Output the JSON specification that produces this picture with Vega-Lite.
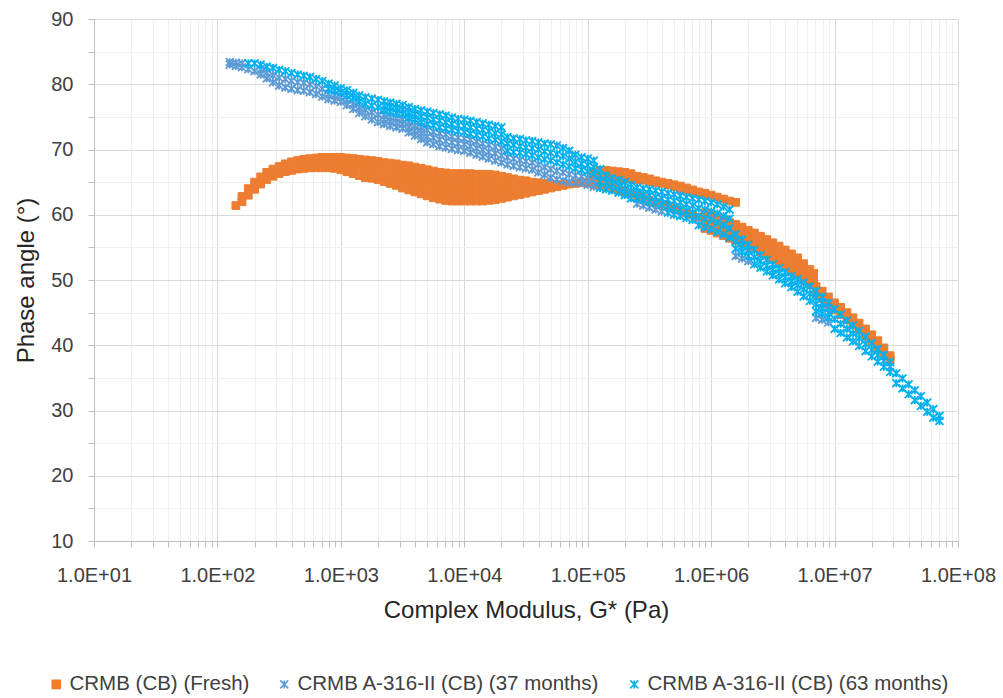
{
"$schema":"https://vega.github.io/schema/vega-lite/v6.json",
"width":864,"height":522,
"autosize":{"type":"none"},
"padding":{"left":94,"top":19,"right":45,"bottom":157},
"background":"#ffffff",
"config":{"font":"Liberation Sans","view":{"stroke":null},
"axis":{"labelColor":"#404040","titleColor":"#262626","labelFontSize":20,"titleFontSize":24,"titleFontWeight":"normal","domainColor":"#BFBFBF","tickColor":"#BFBFBF","tickSize":6,"labelOverlap":false,"labelFlush":false},
"legend":{"labelLimit":0}},
"data":{"values":[
{"s":"A","g":1.41e2,"p":61.4},{"s":"A","g":1.58e2,"p":62.8},{"s":"A","g":1.78e2,"p":64.0},{"s":"A","g":2e2,"p":65.0},{"s":"A","g":2.24e2,"p":65.8},{"s":"A","g":2.51e2,"p":66.5},{"s":"A","g":2.82e2,"p":67.0},{"s":"A","g":3.16e2,"p":67.4},{"s":"A","g":3.55e2,"p":67.8},{"s":"A","g":3.98e2,"p":68.1},{"s":"A","g":4.47e2,"p":68.3},{"s":"A","g":5.01e2,"p":68.5},{"s":"A","g":5.62e2,"p":68.6},{"s":"A","g":6.31e2,"p":68.7},{"s":"A","g":7.08e2,"p":68.8},{"s":"A","g":7.94e2,"p":68.8},{"s":"A","g":8.91e2,"p":68.8},{"s":"A","g":1e3,"p":68.8},{"s":"A","g":1.12e3,"p":68.7},{"s":"A","g":1.26e3,"p":68.6},{"s":"A","g":1.41e3,"p":68.5},{"s":"A","g":1.58e3,"p":68.4},{"s":"A","g":1.78e3,"p":68.3},{"s":"A","g":2e3,"p":68.2},{"s":"A","g":2.24e3,"p":68.0},{"s":"A","g":2.51e3,"p":67.9},{"s":"A","g":2.82e3,"p":67.8},{"s":"A","g":3.16e3,"p":67.6},{"s":"A","g":3.55e3,"p":67.5},{"s":"A","g":3.98e3,"p":67.3},{"s":"A","g":4.47e3,"p":67.1},{"s":"A","g":5.01e3,"p":66.9},{"s":"A","g":5.62e3,"p":66.7},{"s":"A","g":6.31e3,"p":66.5},{"s":"A","g":7.08e3,"p":66.4},{"s":"A","g":7.94e3,"p":66.3},{"s":"A","g":8.91e3,"p":66.3},{"s":"A","g":1e4,"p":66.3},{"s":"A","g":1.12e4,"p":66.3},{"s":"A","g":1.26e4,"p":66.2},{"s":"A","g":1.41e4,"p":66.2},{"s":"A","g":1.58e4,"p":66.2},{"s":"A","g":1.78e4,"p":66.1},{"s":"A","g":2e4,"p":65.9},{"s":"A","g":2.24e4,"p":65.7},{"s":"A","g":2.51e4,"p":65.5},{"s":"A","g":2.82e4,"p":65.3},{"s":"A","g":3.16e4,"p":65.2},{"s":"A","g":3.55e4,"p":65.0},{"s":"A","g":3.98e4,"p":64.9},{"s":"A","g":4.47e4,"p":64.8},{"s":"A","g":5.01e4,"p":64.7},{"s":"A","g":5.62e4,"p":64.6},{"s":"A","g":6.31e4,"p":64.6},{"s":"A","g":7.08e4,"p":64.7},{"s":"A","g":7.94e4,"p":64.8},{"s":"A","g":8.91e4,"p":64.9},{"s":"A","g":1e5,"p":65.0},
{"s":"A","g":1.58e2,"p":62.0},{"s":"A","g":1.78e2,"p":63.0},{"s":"A","g":2e2,"p":63.9},{"s":"A","g":2.24e2,"p":64.7},{"s":"A","g":2.51e2,"p":65.4},{"s":"A","g":2.82e2,"p":65.9},{"s":"A","g":3.16e2,"p":66.3},{"s":"A","g":3.55e2,"p":66.6},{"s":"A","g":3.98e2,"p":66.8},{"s":"A","g":4.47e2,"p":67.0},{"s":"A","g":5.01e2,"p":67.1},{"s":"A","g":5.62e2,"p":67.2},{"s":"A","g":6.31e2,"p":67.2},{"s":"A","g":7.08e2,"p":67.2},{"s":"A","g":7.94e2,"p":67.2},{"s":"A","g":8.91e2,"p":67.1},{"s":"A","g":1e3,"p":66.9},{"s":"A","g":1.12e3,"p":66.6},{"s":"A","g":1.26e3,"p":66.3},{"s":"A","g":1.41e3,"p":66.0},{"s":"A","g":1.58e3,"p":65.7},{"s":"A","g":1.78e3,"p":65.6},{"s":"A","g":2e3,"p":65.4},{"s":"A","g":2.24e3,"p":65.1},{"s":"A","g":2.51e3,"p":64.8},{"s":"A","g":2.82e3,"p":64.5},{"s":"A","g":3.16e3,"p":64.1},{"s":"A","g":3.55e3,"p":63.8},{"s":"A","g":3.98e3,"p":63.5},{"s":"A","g":4.47e3,"p":63.2},{"s":"A","g":5.01e3,"p":62.9},{"s":"A","g":5.62e3,"p":62.6},{"s":"A","g":6.31e3,"p":62.4},{"s":"A","g":7.08e3,"p":62.2},{"s":"A","g":7.94e3,"p":62.1},{"s":"A","g":8.91e3,"p":62.1},{"s":"A","g":1e4,"p":62.1},{"s":"A","g":1.12e4,"p":62.1},{"s":"A","g":1.26e4,"p":62.1},{"s":"A","g":1.41e4,"p":62.1},{"s":"A","g":1.58e4,"p":62.2},{"s":"A","g":1.78e4,"p":62.3},{"s":"A","g":2e4,"p":62.5},{"s":"A","g":2.24e4,"p":62.7},{"s":"A","g":2.51e4,"p":62.9},{"s":"A","g":2.82e4,"p":63.1},{"s":"A","g":3.16e4,"p":63.3},{"s":"A","g":3.55e4,"p":63.5},{"s":"A","g":3.98e4,"p":63.7},{"s":"A","g":4.47e4,"p":63.9},{"s":"A","g":5.01e4,"p":64.1},{"s":"A","g":5.62e4,"p":64.3},{"s":"A","g":6.31e4,"p":64.5},
{"s":"A","g":4.47e2,"p":67.7},{"s":"A","g":5.01e2,"p":67.8},{"s":"A","g":5.62e2,"p":67.9},{"s":"A","g":6.31e2,"p":68.0},{"s":"A","g":7.08e2,"p":68.0},{"s":"A","g":7.94e2,"p":68.0},{"s":"A","g":8.91e2,"p":68.0},{"s":"A","g":1e3,"p":67.9},{"s":"A","g":1.12e3,"p":67.7},{"s":"A","g":1.26e3,"p":67.5},{"s":"A","g":1.41e3,"p":67.3},
{"s":"A","g":1.58e3,"p":66.6},{"s":"A","g":1.58e3,"p":67.5},{"s":"A","g":1.78e3,"p":66.5},{"s":"A","g":1.78e3,"p":67.4},{"s":"A","g":2e3,"p":66.3},{"s":"A","g":2e3,"p":67.3},{"s":"A","g":2.24e3,"p":66.1},{"s":"A","g":2.24e3,"p":67.0},{"s":"A","g":2.51e3,"p":65.8},{"s":"A","g":2.51e3,"p":66.9},{"s":"A","g":2.82e3,"p":65.6},{"s":"A","g":2.82e3,"p":66.7},
{"s":"A","g":3.16e3,"p":65.0},{"s":"A","g":3.16e3,"p":65.9},{"s":"A","g":3.16e3,"p":66.7},{"s":"A","g":3.55e3,"p":64.7},{"s":"A","g":3.55e3,"p":65.7},{"s":"A","g":3.55e3,"p":66.6},{"s":"A","g":3.98e3,"p":64.5},{"s":"A","g":3.98e3,"p":65.4},{"s":"A","g":3.98e3,"p":66.4},{"s":"A","g":4.47e3,"p":64.2},{"s":"A","g":4.47e3,"p":65.2},{"s":"A","g":4.47e3,"p":66.1},{"s":"A","g":5.01e3,"p":63.9},{"s":"A","g":5.01e3,"p":64.9},{"s":"A","g":5.01e3,"p":65.9},{"s":"A","g":5.62e3,"p":63.6},{"s":"A","g":5.62e3,"p":64.7},{"s":"A","g":5.62e3,"p":65.7},{"s":"A","g":6.31e3,"p":63.4},{"s":"A","g":6.31e3,"p":64.5},{"s":"A","g":6.31e3,"p":65.5},{"s":"A","g":7.08e3,"p":63.3},{"s":"A","g":7.08e3,"p":64.3},{"s":"A","g":7.08e3,"p":65.4},{"s":"A","g":7.94e3,"p":63.2},{"s":"A","g":7.94e3,"p":64.2},{"s":"A","g":7.94e3,"p":65.3},{"s":"A","g":8.91e3,"p":63.2},{"s":"A","g":8.91e3,"p":64.2},{"s":"A","g":8.91e3,"p":65.3},{"s":"A","g":1e4,"p":63.2},{"s":"A","g":1e4,"p":64.2},{"s":"A","g":1e4,"p":65.3},{"s":"A","g":1.12e4,"p":63.2},{"s":"A","g":1.12e4,"p":64.2},{"s":"A","g":1.12e4,"p":65.3},{"s":"A","g":1.26e4,"p":63.1},{"s":"A","g":1.26e4,"p":64.2},{"s":"A","g":1.26e4,"p":65.2},{"s":"A","g":1.41e4,"p":63.1},{"s":"A","g":1.41e4,"p":64.2},{"s":"A","g":1.41e4,"p":65.2},{"s":"A","g":1.58e4,"p":63.2},{"s":"A","g":1.58e4,"p":64.2},{"s":"A","g":1.58e4,"p":65.2},{"s":"A","g":1.78e4,"p":63.3},{"s":"A","g":1.78e4,"p":64.2},{"s":"A","g":1.78e4,"p":65.2},{"s":"A","g":2e4,"p":63.4},{"s":"A","g":2e4,"p":64.2},{"s":"A","g":2e4,"p":65.1},
{"s":"A","g":2.24e4,"p":63.7},{"s":"A","g":2.24e4,"p":64.7},{"s":"A","g":2.51e4,"p":63.8},{"s":"A","g":2.51e4,"p":64.6},{"s":"A","g":2.82e4,"p":64.2},{"s":"A","g":3.16e4,"p":64.2},{"s":"A","g":3.55e4,"p":64.3},
{"s":"A","g":1.12e5,"p":66.6},{"s":"A","g":1.26e5,"p":66.8},{"s":"A","g":1.41e5,"p":66.8},{"s":"A","g":1.58e5,"p":66.7},{"s":"A","g":1.78e5,"p":66.6},{"s":"A","g":2e5,"p":66.5},{"s":"A","g":2.24e5,"p":66.3},{"s":"A","g":2.51e5,"p":65.9},{"s":"A","g":2.82e5,"p":65.7},{"s":"A","g":3.16e5,"p":65.5},{"s":"A","g":3.55e5,"p":65.2},{"s":"A","g":3.98e5,"p":65.0},{"s":"A","g":4.47e5,"p":64.8},{"s":"A","g":5.01e5,"p":64.6},{"s":"A","g":5.62e5,"p":64.4},{"s":"A","g":6.31e5,"p":64.1},{"s":"A","g":7.08e5,"p":63.8},{"s":"A","g":7.94e5,"p":63.5},{"s":"A","g":8.91e5,"p":63.3},{"s":"A","g":1e6,"p":63.0},{"s":"A","g":1.12e6,"p":62.7},{"s":"A","g":1.26e6,"p":62.4},{"s":"A","g":1.41e6,"p":62.1},{"s":"A","g":1.58e6,"p":61.9},
{"s":"A","g":1.12e5,"p":65.5},{"s":"A","g":1.26e5,"p":65.6},{"s":"A","g":1.41e5,"p":65.6},{"s":"A","g":1.58e5,"p":65.6},{"s":"A","g":1.78e5,"p":65.6},{"s":"A","g":2e5,"p":65.5},{"s":"A","g":2.24e5,"p":65.5},{"s":"A","g":2.51e5,"p":65.4},{"s":"A","g":2.82e5,"p":65.3},{"s":"A","g":3.16e5,"p":65.1},{"s":"A","g":3.55e5,"p":64.9},{"s":"A","g":3.98e5,"p":64.8},{"s":"A","g":4.47e5,"p":64.6},{"s":"A","g":5.01e5,"p":64.3},{"s":"A","g":5.62e5,"p":64.0},{"s":"A","g":6.31e5,"p":63.8},{"s":"A","g":7.08e5,"p":63.5},{"s":"A","g":7.94e5,"p":63.3},{"s":"A","g":8.91e5,"p":63.1},
{"s":"A","g":1e5,"p":64.8},{"s":"A","g":1.12e5,"p":64.7},{"s":"A","g":1.26e5,"p":64.5},{"s":"A","g":1.41e5,"p":64.3},{"s":"A","g":1.58e5,"p":64.1},{"s":"A","g":1.78e5,"p":63.8},{"s":"A","g":2e5,"p":63.5},{"s":"A","g":2.24e5,"p":63.2},{"s":"A","g":2.51e5,"p":62.9},{"s":"A","g":2.82e5,"p":62.5},{"s":"A","g":3.16e5,"p":62.2},{"s":"A","g":3.55e5,"p":61.9},{"s":"A","g":3.98e5,"p":61.6},{"s":"A","g":4.47e5,"p":61.3},{"s":"A","g":5.01e5,"p":61.0},{"s":"A","g":5.62e5,"p":60.7},{"s":"A","g":6.31e5,"p":60.3},{"s":"A","g":7.08e5,"p":60.0},{"s":"A","g":7.94e5,"p":59.6},
{"s":"A","g":8.91e5,"p":60.3},{"s":"A","g":8.91e5,"p":59.1},{"s":"A","g":8.91e5,"p":57.9},{"s":"A","g":1e6,"p":60.0},{"s":"A","g":1e6,"p":58.8},{"s":"A","g":1e6,"p":57.6},{"s":"A","g":1.12e6,"p":59.6},{"s":"A","g":1.12e6,"p":58.4},{"s":"A","g":1.12e6,"p":57.2},{"s":"A","g":1.26e6,"p":59.2},{"s":"A","g":1.26e6,"p":58.0},{"s":"A","g":1.26e6,"p":56.8},{"s":"A","g":1.41e6,"p":58.8},{"s":"A","g":1.41e6,"p":57.6},{"s":"A","g":1.41e6,"p":56.4},{"s":"A","g":1.58e6,"p":58.5},{"s":"A","g":1.58e6,"p":57.3},{"s":"A","g":1.58e6,"p":56.1},{"s":"A","g":1.78e6,"p":58.1},{"s":"A","g":1.78e6,"p":56.9},{"s":"A","g":1.78e6,"p":55.7},{"s":"A","g":2e6,"p":57.6},{"s":"A","g":2e6,"p":56.4},{"s":"A","g":2e6,"p":55.2},{"s":"A","g":2.24e6,"p":57.2},{"s":"A","g":2.24e6,"p":56.0},{"s":"A","g":2.24e6,"p":54.8},{"s":"A","g":2.51e6,"p":56.7},{"s":"A","g":2.51e6,"p":55.5},{"s":"A","g":2.51e6,"p":54.3},{"s":"A","g":2.82e6,"p":56.2},{"s":"A","g":2.82e6,"p":55.0},{"s":"A","g":2.82e6,"p":53.8},{"s":"A","g":3.16e6,"p":55.7},{"s":"A","g":3.16e6,"p":54.5},{"s":"A","g":3.16e6,"p":53.3},{"s":"A","g":3.55e6,"p":55.2},{"s":"A","g":3.55e6,"p":54.0},{"s":"A","g":3.55e6,"p":52.8},{"s":"A","g":3.98e6,"p":54.6},{"s":"A","g":3.98e6,"p":53.4},{"s":"A","g":3.98e6,"p":52.2},{"s":"A","g":4.47e6,"p":54.0},{"s":"A","g":4.47e6,"p":52.8},{"s":"A","g":4.47e6,"p":51.6},{"s":"A","g":5.01e6,"p":53.4},{"s":"A","g":5.01e6,"p":52.2},{"s":"A","g":5.01e6,"p":51.0},{"s":"A","g":5.62e6,"p":52.5},{"s":"A","g":5.62e6,"p":51.3},{"s":"A","g":5.62e6,"p":50.1},{"s":"A","g":6.31e6,"p":51.6},{"s":"A","g":6.31e6,"p":50.5},{"s":"A","g":6.31e6,"p":49.4},{"s":"A","g":6.76e6,"p":51.0},{"s":"A","g":6.76e6,"p":50.2},
{"s":"A","g":7.08e6,"p":49.0},{"s":"A","g":7.08e6,"p":47.9},{"s":"A","g":7.94e6,"p":48.3},{"s":"A","g":7.94e6,"p":47.2},{"s":"A","g":8.91e6,"p":47.4},{"s":"A","g":8.91e6,"p":46.3},{"s":"A","g":1e7,"p":46.5},{"s":"A","g":1e7,"p":45.4},{"s":"A","g":1.12e7,"p":45.8},{"s":"A","g":1.12e7,"p":44.7},{"s":"A","g":1.26e7,"p":45.0},{"s":"A","g":1.26e7,"p":43.9},{"s":"A","g":1.41e7,"p":44.2},{"s":"A","g":1.41e7,"p":43.1},{"s":"A","g":1.58e7,"p":43.4},{"s":"A","g":1.58e7,"p":42.3},{"s":"A","g":1.78e7,"p":42.5},{"s":"A","g":1.78e7,"p":41.4},{"s":"A","g":2e7,"p":41.6},{"s":"A","g":2e7,"p":40.5},{"s":"A","g":2.24e7,"p":40.7},{"s":"A","g":2.24e7,"p":39.6},{"s":"A","g":2.51e7,"p":39.6},{"s":"A","g":2.51e7,"p":38.5},{"s":"A","g":2.82e7,"p":38.4},{"s":"A","g":2.82e7,"p":37.8},
{"s":"B","g":1.26e2,"p":83.0},{"s":"B","g":1.26e2,"p":83.4},{"s":"B","g":1.41e2,"p":82.8},{"s":"B","g":1.41e2,"p":83.3},{"s":"B","g":1.58e2,"p":82.6},{"s":"B","g":1.58e2,"p":83.2},{"s":"B","g":1.78e2,"p":82.3},{"s":"B","g":2e2,"p":82.0},
{"s":"B","g":2.24e2,"p":81.5},{"s":"B","g":2.24e2,"p":82.3},{"s":"B","g":2.51e2,"p":80.9},{"s":"B","g":2.51e2,"p":81.8},{"s":"B","g":2.82e2,"p":80.3},{"s":"B","g":2.82e2,"p":81.4},{"s":"B","g":3.16e2,"p":79.8},{"s":"B","g":3.16e2,"p":81.0},{"s":"B","g":3.55e2,"p":79.5},{"s":"B","g":3.55e2,"p":80.8},{"s":"B","g":3.98e2,"p":79.3},{"s":"B","g":3.98e2,"p":80.5},{"s":"B","g":4.47e2,"p":79.1},{"s":"B","g":4.47e2,"p":80.3},{"s":"B","g":5.01e2,"p":79.0},{"s":"B","g":5.01e2,"p":80.2},{"s":"B","g":5.62e2,"p":78.8},{"s":"B","g":5.62e2,"p":80.0},{"s":"B","g":6.31e2,"p":78.5},{"s":"B","g":6.31e2,"p":79.7},{"s":"B","g":7.08e2,"p":78.1},{"s":"B","g":7.08e2,"p":79.3},
{"s":"B","g":7.94e2,"p":77.7},{"s":"B","g":7.94e2,"p":78.5},{"s":"B","g":8.91e2,"p":77.5},{"s":"B","g":8.91e2,"p":78.3},{"s":"B","g":1e3,"p":77.3},{"s":"B","g":1e3,"p":78.0},{"s":"B","g":1.12e3,"p":76.8},{"s":"B","g":1.12e3,"p":77.6},{"s":"B","g":1.26e3,"p":76.2},{"s":"B","g":1.26e3,"p":77.0},{"s":"B","g":1.41e3,"p":75.6},{"s":"B","g":1.41e3,"p":76.5},{"s":"B","g":1.58e3,"p":75.1},{"s":"B","g":1.58e3,"p":76.1},{"s":"B","g":1.78e3,"p":74.6},{"s":"B","g":1.78e3,"p":75.7},{"s":"B","g":2e3,"p":74.2},{"s":"B","g":2e3,"p":75.3},
{"s":"B","g":2.24e3,"p":73.9},{"s":"B","g":2.24e3,"p":74.6},{"s":"B","g":2.24e3,"p":75.3},{"s":"B","g":2.51e3,"p":73.6},{"s":"B","g":2.51e3,"p":74.3},{"s":"B","g":2.51e3,"p":75.0},{"s":"B","g":2.82e3,"p":73.4},{"s":"B","g":2.82e3,"p":74.1},{"s":"B","g":2.82e3,"p":74.8},{"s":"B","g":3.16e3,"p":73.2},{"s":"B","g":3.16e3,"p":73.9},{"s":"B","g":3.16e3,"p":74.6},{"s":"B","g":3.55e3,"p":72.6},{"s":"B","g":3.55e3,"p":73.4},{"s":"B","g":3.55e3,"p":74.2},{"s":"B","g":3.98e3,"p":72.1},{"s":"B","g":3.98e3,"p":72.9},{"s":"B","g":3.98e3,"p":73.7},{"s":"B","g":4.47e3,"p":71.6},{"s":"B","g":4.47e3,"p":72.5},{"s":"B","g":4.47e3,"p":73.4},{"s":"B","g":5.01e3,"p":71.1},{"s":"B","g":5.01e3,"p":72.0},{"s":"B","g":5.01e3,"p":73.0},{"s":"B","g":5.62e3,"p":70.8},{"s":"B","g":5.62e3,"p":71.8},{"s":"B","g":5.62e3,"p":72.7},{"s":"B","g":6.31e3,"p":70.5},{"s":"B","g":6.31e3,"p":71.5},{"s":"B","g":6.31e3,"p":72.5},{"s":"B","g":7.08e3,"p":70.3},{"s":"B","g":7.08e3,"p":71.3},{"s":"B","g":7.08e3,"p":72.3},{"s":"B","g":7.94e3,"p":70.1},{"s":"B","g":7.94e3,"p":71.1},{"s":"B","g":7.94e3,"p":72.0},{"s":"B","g":8.91e3,"p":69.9},{"s":"B","g":8.91e3,"p":70.9},{"s":"B","g":8.91e3,"p":71.8},{"s":"B","g":1e4,"p":69.8},{"s":"B","g":1e4,"p":70.8},{"s":"B","g":1e4,"p":71.7},{"s":"B","g":1.12e4,"p":69.5},{"s":"B","g":1.12e4,"p":70.5},{"s":"B","g":1.12e4,"p":71.5},{"s":"B","g":1.26e4,"p":69.2},{"s":"B","g":1.26e4,"p":70.2},{"s":"B","g":1.26e4,"p":71.2},{"s":"B","g":1.41e4,"p":68.9},{"s":"B","g":1.41e4,"p":69.9},{"s":"B","g":1.41e4,"p":70.9},{"s":"B","g":1.58e4,"p":68.6},{"s":"B","g":1.58e4,"p":69.6},{"s":"B","g":1.58e4,"p":70.7},{"s":"B","g":1.78e4,"p":68.3},{"s":"B","g":1.78e4,"p":69.4},{"s":"B","g":1.78e4,"p":70.4},{"s":"B","g":2e4,"p":68.0},{"s":"B","g":2e4,"p":69.1},{"s":"B","g":2e4,"p":70.2},
{"s":"B","g":2.24e4,"p":67.7},{"s":"B","g":2.24e4,"p":68.8},{"s":"B","g":2.51e4,"p":67.5},{"s":"B","g":2.51e4,"p":68.6},{"s":"B","g":2.82e4,"p":67.3},{"s":"B","g":2.82e4,"p":68.4},{"s":"B","g":3.16e4,"p":67.1},{"s":"B","g":3.16e4,"p":68.2},{"s":"B","g":3.55e4,"p":66.9},{"s":"B","g":3.55e4,"p":68.0},{"s":"B","g":3.98e4,"p":66.5},{"s":"B","g":3.98e4,"p":67.7},{"s":"B","g":4.47e4,"p":66.1},{"s":"B","g":4.47e4,"p":67.3},{"s":"B","g":5.01e4,"p":65.7},{"s":"B","g":5.01e4,"p":67.0},{"s":"B","g":5.62e4,"p":65.4},{"s":"B","g":5.62e4,"p":66.7},{"s":"B","g":6.31e4,"p":65.2},{"s":"B","g":6.31e4,"p":66.5},{"s":"B","g":7.08e4,"p":65.0},{"s":"B","g":7.08e4,"p":66.2},{"s":"B","g":7.94e4,"p":64.9},{"s":"B","g":7.94e4,"p":66.0},{"s":"B","g":8.91e4,"p":64.9},{"s":"B","g":8.91e4,"p":65.9},{"s":"B","g":1e5,"p":64.6},{"s":"B","g":1e5,"p":65.6},{"s":"B","g":1.12e5,"p":64.3},{"s":"B","g":1.12e5,"p":65.3},
{"s":"B","g":2.51e5,"p":61.7},{"s":"B","g":2.82e5,"p":61.4},{"s":"B","g":3.16e5,"p":61.1},{"s":"B","g":3.55e5,"p":60.8},{"s":"B","g":3.98e5,"p":60.5},
{"s":"B","g":1.58e6,"p":53.7},{"s":"B","g":1.78e6,"p":53.3},{"s":"B","g":2e6,"p":52.9},
{"s":"B","g":7.08e6,"p":44.2},{"s":"B","g":7.94e6,"p":43.9},{"s":"B","g":8.91e6,"p":43.5},
{"s":"C","g":1.78e2,"p":83.2},{"s":"C","g":2e2,"p":83.2},
{"s":"C","g":2.24e2,"p":83.0},{"s":"C","g":2.51e2,"p":82.7},{"s":"C","g":2.82e2,"p":82.5},{"s":"C","g":3.16e2,"p":82.2},{"s":"C","g":3.55e2,"p":82.0},{"s":"C","g":3.98e2,"p":81.7},{"s":"C","g":4.47e2,"p":81.5},{"s":"C","g":5.01e2,"p":81.3},{"s":"C","g":5.62e2,"p":81.1},{"s":"C","g":6.31e2,"p":80.8},{"s":"C","g":7.08e2,"p":80.5},
{"s":"C","g":7.94e2,"p":79.3},{"s":"C","g":7.94e2,"p":80.1},{"s":"C","g":8.91e2,"p":79.0},{"s":"C","g":8.91e2,"p":79.8},{"s":"C","g":1e3,"p":78.7},{"s":"C","g":1e3,"p":79.4},{"s":"C","g":1.12e3,"p":78.3},{"s":"C","g":1.12e3,"p":79.1},{"s":"C","g":1.26e3,"p":77.9},{"s":"C","g":1.26e3,"p":78.7},{"s":"C","g":1.41e3,"p":77.4},{"s":"C","g":1.41e3,"p":78.3},{"s":"C","g":1.58e3,"p":77.0},{"s":"C","g":1.58e3,"p":78.0},{"s":"C","g":1.78e3,"p":76.7},{"s":"C","g":1.78e3,"p":77.8},{"s":"C","g":2e3,"p":76.5},{"s":"C","g":2e3,"p":77.6},
{"s":"C","g":2.24e3,"p":76.0},{"s":"C","g":2.24e3,"p":76.7},{"s":"C","g":2.24e3,"p":77.4},{"s":"C","g":2.51e3,"p":75.8},{"s":"C","g":2.51e3,"p":76.5},{"s":"C","g":2.51e3,"p":77.2},{"s":"C","g":2.82e3,"p":75.6},{"s":"C","g":2.82e3,"p":76.3},{"s":"C","g":2.82e3,"p":77.0},{"s":"C","g":3.16e3,"p":75.4},{"s":"C","g":3.16e3,"p":76.1},{"s":"C","g":3.16e3,"p":76.8},{"s":"C","g":3.55e3,"p":74.9},{"s":"C","g":3.55e3,"p":75.7},{"s":"C","g":3.55e3,"p":76.5},{"s":"C","g":3.98e3,"p":74.6},{"s":"C","g":3.98e3,"p":75.4},{"s":"C","g":3.98e3,"p":76.2},{"s":"C","g":4.47e3,"p":74.2},{"s":"C","g":4.47e3,"p":75.1},{"s":"C","g":4.47e3,"p":76.0},{"s":"C","g":5.01e3,"p":73.9},{"s":"C","g":5.01e3,"p":74.9},{"s":"C","g":5.01e3,"p":75.8},{"s":"C","g":5.62e3,"p":73.7},{"s":"C","g":5.62e3,"p":74.6},{"s":"C","g":5.62e3,"p":75.6},{"s":"C","g":6.31e3,"p":73.4},{"s":"C","g":6.31e3,"p":74.4},{"s":"C","g":6.31e3,"p":75.4},{"s":"C","g":7.08e3,"p":73.2},{"s":"C","g":7.08e3,"p":74.2},{"s":"C","g":7.08e3,"p":75.2},{"s":"C","g":7.94e3,"p":73.0},{"s":"C","g":7.94e3,"p":73.9},{"s":"C","g":7.94e3,"p":74.9},{"s":"C","g":8.91e3,"p":72.8},{"s":"C","g":8.91e3,"p":73.7},{"s":"C","g":8.91e3,"p":74.7},{"s":"C","g":1e4,"p":72.7},{"s":"C","g":1e4,"p":73.6},{"s":"C","g":1e4,"p":74.6},{"s":"C","g":1.12e4,"p":72.4},{"s":"C","g":1.12e4,"p":73.4},{"s":"C","g":1.12e4,"p":74.4},{"s":"C","g":1.26e4,"p":72.2},{"s":"C","g":1.26e4,"p":73.2},{"s":"C","g":1.26e4,"p":74.2},{"s":"C","g":1.41e4,"p":72.0},{"s":"C","g":1.41e4,"p":73.0},{"s":"C","g":1.41e4,"p":74.0},{"s":"C","g":1.58e4,"p":71.7},{"s":"C","g":1.58e4,"p":72.8},{"s":"C","g":1.58e4,"p":73.8},{"s":"C","g":1.78e4,"p":71.5},{"s":"C","g":1.78e4,"p":72.5},{"s":"C","g":1.78e4,"p":73.6},{"s":"C","g":2e4,"p":71.2},{"s":"C","g":2e4,"p":72.3},{"s":"C","g":2e4,"p":73.4},
{"s":"C","g":2.24e4,"p":69.8},{"s":"C","g":2.24e4,"p":70.9},{"s":"C","g":2.24e4,"p":71.9},{"s":"C","g":2.51e4,"p":69.6},{"s":"C","g":2.51e4,"p":70.7},{"s":"C","g":2.51e4,"p":71.7},{"s":"C","g":2.82e4,"p":69.5},{"s":"C","g":2.82e4,"p":70.5},{"s":"C","g":2.82e4,"p":71.6},{"s":"C","g":3.16e4,"p":69.3},{"s":"C","g":3.16e4,"p":70.3},{"s":"C","g":3.16e4,"p":71.4},{"s":"C","g":3.55e4,"p":69.1},{"s":"C","g":3.55e4,"p":70.2},{"s":"C","g":3.55e4,"p":71.3},{"s":"C","g":3.98e4,"p":68.8},{"s":"C","g":3.98e4,"p":70.0},{"s":"C","g":3.98e4,"p":71.1},{"s":"C","g":4.47e4,"p":68.5},{"s":"C","g":4.47e4,"p":69.7},{"s":"C","g":4.47e4,"p":70.9},{"s":"C","g":5.01e4,"p":68.3},{"s":"C","g":5.01e4,"p":69.5},{"s":"C","g":5.01e4,"p":70.8},{"s":"C","g":5.62e4,"p":68.0},{"s":"C","g":5.62e4,"p":69.3},{"s":"C","g":5.62e4,"p":70.6},{"s":"C","g":6.31e4,"p":67.7},{"s":"C","g":6.31e4,"p":69.0},{"s":"C","g":6.31e4,"p":70.2},{"s":"C","g":7.08e4,"p":67.4},{"s":"C","g":7.08e4,"p":68.6},{"s":"C","g":7.08e4,"p":69.8},{"s":"C","g":7.94e4,"p":67.1},{"s":"C","g":7.94e4,"p":68.1},{"s":"C","g":7.94e4,"p":69.2},{"s":"C","g":8.91e4,"p":66.9},{"s":"C","g":8.91e4,"p":67.8},{"s":"C","g":8.91e4,"p":68.8},{"s":"C","g":1e5,"p":66.6},{"s":"C","g":1e5,"p":67.6},{"s":"C","g":1e5,"p":68.6},{"s":"C","g":1.12e5,"p":66.3},{"s":"C","g":1.12e5,"p":67.3},{"s":"C","g":1.12e5,"p":68.3},
{"s":"C","g":1.26e5,"p":64.1},{"s":"C","g":1.26e5,"p":65.1},{"s":"C","g":1.26e5,"p":66.0},{"s":"C","g":1.26e5,"p":67.0},{"s":"C","g":1.41e5,"p":63.9},{"s":"C","g":1.41e5,"p":65.0},{"s":"C","g":1.41e5,"p":66.0},{"s":"C","g":1.58e5,"p":63.7},{"s":"C","g":1.58e5,"p":64.7},{"s":"C","g":1.58e5,"p":65.6},{"s":"C","g":1.78e5,"p":63.4},{"s":"C","g":1.78e5,"p":64.4},{"s":"C","g":1.78e5,"p":65.3},{"s":"C","g":2e5,"p":63.0},{"s":"C","g":2e5,"p":64.0},{"s":"C","g":2e5,"p":65.0},{"s":"C","g":2.24e5,"p":62.5},{"s":"C","g":2.24e5,"p":63.6},{"s":"C","g":2.24e5,"p":64.6},
{"s":"C","g":2.51e5,"p":62.5},{"s":"C","g":2.51e5,"p":63.4},{"s":"C","g":2.51e5,"p":64.2},{"s":"C","g":2.82e5,"p":62.3},{"s":"C","g":2.82e5,"p":63.1},{"s":"C","g":2.82e5,"p":64.0},{"s":"C","g":3.16e5,"p":62.0},{"s":"C","g":3.16e5,"p":63.0},{"s":"C","g":3.16e5,"p":63.9},{"s":"C","g":3.55e5,"p":61.8},{"s":"C","g":3.55e5,"p":62.7},{"s":"C","g":3.55e5,"p":63.7},{"s":"C","g":3.98e5,"p":61.5},{"s":"C","g":3.98e5,"p":62.5},{"s":"C","g":3.98e5,"p":63.5},{"s":"C","g":4.47e5,"p":60.3},{"s":"C","g":4.47e5,"p":61.3},{"s":"C","g":4.47e5,"p":62.3},{"s":"C","g":4.47e5,"p":63.3},{"s":"C","g":5.01e5,"p":60.0},{"s":"C","g":5.01e5,"p":61.0},{"s":"C","g":5.01e5,"p":62.1},{"s":"C","g":5.01e5,"p":63.1},{"s":"C","g":5.62e5,"p":59.8},{"s":"C","g":5.62e5,"p":60.8},{"s":"C","g":5.62e5,"p":61.9},{"s":"C","g":5.62e5,"p":62.9},{"s":"C","g":6.31e5,"p":59.5},{"s":"C","g":6.31e5,"p":60.6},{"s":"C","g":6.31e5,"p":61.6},{"s":"C","g":6.31e5,"p":62.7},{"s":"C","g":7.08e5,"p":59.2},{"s":"C","g":7.08e5,"p":60.3},{"s":"C","g":7.08e5,"p":61.4},{"s":"C","g":7.08e5,"p":62.5},{"s":"C","g":7.94e5,"p":58.4},{"s":"C","g":7.94e5,"p":59.7},{"s":"C","g":7.94e5,"p":61.0},{"s":"C","g":7.94e5,"p":62.3},{"s":"C","g":8.91e5,"p":58.1},{"s":"C","g":8.91e5,"p":59.4},{"s":"C","g":8.91e5,"p":60.8},{"s":"C","g":8.91e5,"p":62.1},{"s":"C","g":1e6,"p":57.8},{"s":"C","g":1e6,"p":59.2},{"s":"C","g":1e6,"p":60.5},{"s":"C","g":1e6,"p":61.9},{"s":"C","g":1.12e6,"p":57.4},{"s":"C","g":1.12e6,"p":58.8},{"s":"C","g":1.12e6,"p":60.2},{"s":"C","g":1.12e6,"p":61.6},{"s":"C","g":1.26e6,"p":57.0},{"s":"C","g":1.26e6,"p":58.4},{"s":"C","g":1.26e6,"p":59.8},{"s":"C","g":1.26e6,"p":61.2},{"s":"C","g":1.41e6,"p":56.5},{"s":"C","g":1.41e6,"p":57.9},{"s":"C","g":1.41e6,"p":59.4},{"s":"C","g":1.41e6,"p":60.8},
{"s":"C","g":1.58e6,"p":54.8},{"s":"C","g":1.58e6,"p":55.9},{"s":"C","g":1.58e6,"p":57.0},{"s":"C","g":1.78e6,"p":54.3},{"s":"C","g":1.78e6,"p":55.2},{"s":"C","g":1.78e6,"p":56.2},{"s":"C","g":2e6,"p":53.7},{"s":"C","g":2e6,"p":54.6},{"s":"C","g":2e6,"p":55.4},{"s":"C","g":2.24e6,"p":52.4},{"s":"C","g":2.24e6,"p":53.5},{"s":"C","g":2.24e6,"p":54.6},{"s":"C","g":2.51e6,"p":51.9},{"s":"C","g":2.51e6,"p":52.9},{"s":"C","g":2.51e6,"p":53.8},{"s":"C","g":2.82e6,"p":51.3},{"s":"C","g":2.82e6,"p":52.2},{"s":"C","g":2.82e6,"p":53.1},{"s":"C","g":3.16e6,"p":50.7},{"s":"C","g":3.16e6,"p":51.6},{"s":"C","g":3.16e6,"p":52.4},{"s":"C","g":3.55e6,"p":50.1},{"s":"C","g":3.55e6,"p":51.0},{"s":"C","g":3.55e6,"p":51.8},{"s":"C","g":3.98e6,"p":49.5},{"s":"C","g":3.98e6,"p":50.4},{"s":"C","g":3.98e6,"p":51.2},{"s":"C","g":4.47e6,"p":48.9},{"s":"C","g":4.47e6,"p":49.8},{"s":"C","g":4.47e6,"p":50.6},{"s":"C","g":5.01e6,"p":48.2},{"s":"C","g":5.01e6,"p":49.2},{"s":"C","g":5.01e6,"p":50.1},{"s":"C","g":5.62e6,"p":47.5},{"s":"C","g":5.62e6,"p":48.6},{"s":"C","g":5.62e6,"p":49.6},{"s":"C","g":6.31e6,"p":46.8},{"s":"C","g":6.31e6,"p":47.9},{"s":"C","g":6.31e6,"p":49.0},
{"s":"C","g":7.08e6,"p":45.2},{"s":"C","g":7.08e6,"p":46.3},{"s":"C","g":7.08e6,"p":47.3},{"s":"C","g":7.08e6,"p":48.3},{"s":"C","g":7.94e6,"p":44.8},{"s":"C","g":7.94e6,"p":45.7},{"s":"C","g":7.94e6,"p":46.5},{"s":"C","g":7.94e6,"p":47.4},{"s":"C","g":8.91e6,"p":44.3},{"s":"C","g":8.91e6,"p":45.0},{"s":"C","g":8.91e6,"p":45.8},{"s":"C","g":8.91e6,"p":46.5},
{"s":"C","g":1e7,"p":42.5},{"s":"C","g":1e7,"p":44.0},{"s":"C","g":1e7,"p":45.5},{"s":"C","g":1.12e7,"p":41.9},{"s":"C","g":1.12e7,"p":43.3},{"s":"C","g":1.12e7,"p":44.7},{"s":"C","g":1.26e7,"p":41.2},{"s":"C","g":1.26e7,"p":42.5},{"s":"C","g":1.26e7,"p":43.8},{"s":"C","g":1.41e7,"p":40.6},{"s":"C","g":1.41e7,"p":41.8},{"s":"C","g":1.41e7,"p":43.0},{"s":"C","g":1.58e7,"p":39.9},{"s":"C","g":1.58e7,"p":41.1},{"s":"C","g":1.58e7,"p":42.2},{"s":"C","g":1.78e7,"p":39.1},{"s":"C","g":1.78e7,"p":40.2},{"s":"C","g":1.78e7,"p":41.3},{"s":"C","g":2e7,"p":38.3},{"s":"C","g":2e7,"p":39.3},{"s":"C","g":2e7,"p":40.3},{"s":"C","g":2.24e7,"p":37.5},{"s":"C","g":2.24e7,"p":38.5},{"s":"C","g":2.24e7,"p":39.4},{"s":"C","g":2.51e7,"p":36.7},{"s":"C","g":2.51e7,"p":37.6},{"s":"C","g":2.51e7,"p":38.5},{"s":"C","g":2.82e7,"p":35.9},{"s":"C","g":2.82e7,"p":36.7},{"s":"C","g":2.82e7,"p":37.4},
{"s":"C","g":3.16e7,"p":34.2},{"s":"C","g":3.16e7,"p":35.7},{"s":"C","g":3.55e7,"p":33.4},{"s":"C","g":3.55e7,"p":34.9},{"s":"C","g":3.98e7,"p":32.5},{"s":"C","g":3.98e7,"p":34.0},{"s":"C","g":4.47e7,"p":31.6},{"s":"C","g":4.47e7,"p":33.1},{"s":"C","g":5.01e7,"p":30.7},{"s":"C","g":5.01e7,"p":32.2},{"s":"C","g":5.62e7,"p":29.8},{"s":"C","g":5.62e7,"p":31.2},{"s":"C","g":6.31e7,"p":28.9},{"s":"C","g":6.31e7,"p":30.2},{"s":"C","g":7.08e7,"p":28.4},{"s":"C","g":7.08e7,"p":29.2}
]},
"encoding":{
"x":{"field":"g","type":"quantitative","title":"Complex Modulus, G* (Pa)","scale":{"type":"log","domain":[10,100000000],"nice":false},
 "axis":{"values":[1e1,2e1,3e1,4e1,5e1,6e1,7e1,8e1,9e1,1e2,2e2,3e2,4e2,5e2,6e2,7e2,8e2,9e2,1e3,2e3,3e3,4e3,5e3,6e3,7e3,8e3,9e3,1e4,2e4,3e4,4e4,5e4,6e4,7e4,8e4,9e4,1e5,2e5,3e5,4e5,5e5,6e5,7e5,8e5,9e5,1e6,2e6,3e6,4e6,5e6,6e6,7e6,8e6,9e6,1e7,2e7,3e7,4e7,5e7,6e7,7e7,8e7,9e7,1e8],
 "labelExpr":"abs(log(datum.value)/LN10-round(log(datum.value)/LN10))<0.01 ? '1.0E+0'+round(log(datum.value)/LN10) : ''",
 "grid":true,"gridColor":{"condition":{"test":"abs(log(datum.value)/LN10-round(log(datum.value)/LN10))<0.01","value":"#D9D9D9"},"value":"#F0F0F0"},
 "labelPadding":18,"titlePadding":13}},
"y":{"field":"p","type":"quantitative","title":"Phase angle (°)","scale":{"domain":[10,90],"nice":false,"zero":false},
 "axis":{"values":[10,15,20,25,30,35,40,45,50,55,60,65,70,75,80,85,90],
 "labelExpr":"datum.value % 10 == 0 ? datum.label : ''",
 "grid":true,"gridColor":{"condition":{"test":"datum.value % 10 == 0","value":"#D9D9D9"},"value":"#F0F0F0"},
 "labelPadding":15,"titlePadding":12}},
"fill":{"field":"s","type":"nominal","scale":{"domain":["A","B","C"],"range":["#ED7D31","#5B9BD5","#00B0F0"]},
 "legend":{"title":null,"orient":"none","direction":"horizontal","legendX":-48,"legendY":655,"labelFontSize":20.5,"labelColor":"#404040","labelLimit":0,"symbolSize":64,"symbolStrokeWidth":1.6,"columnPadding":24,"labelOffset":3,"padding":0,
 "labelExpr":"datum.label=='A'?'CRMB (CB) (Fresh)':datum.label=='B'?'CRMB A-316-II (CB) (37 months)':'CRMB A-316-II (CB) (63 months)'"}},
"stroke":{"field":"s","type":"nominal","scale":{"domain":["A","B","C"],"range":["#ED7D31","#5B9BD5","#00B0F0"]},
 "legend":{"title":null,"orient":"none","direction":"horizontal","legendX":-48,"legendY":655,"labelFontSize":20.5,"labelColor":"#404040","labelLimit":0,"symbolSize":64,"symbolStrokeWidth":1.6,"columnPadding":24,"labelOffset":3,"padding":0,
 "labelExpr":"datum.label=='A'?'CRMB (CB) (Fresh)':datum.label=='B'?'CRMB A-316-II (CB) (37 months)':'CRMB A-316-II (CB) (63 months)'"}},
"shape":{"field":"s","type":"nominal","scale":{"domain":["A","B","C"],"range":["square","M-1,-1L1,1M-1,1L1,-1M0,-1L0,1","M-1,-1L1,1M-1,1L1,-1M0,-1L0,1"]},
 "legend":{"title":null,"orient":"none","direction":"horizontal","legendX":-48,"legendY":655,"labelFontSize":20.5,"labelColor":"#404040","labelLimit":0,"symbolSize":64,"symbolStrokeWidth":1.6,"columnPadding":24,"labelOffset":3,"padding":0,
 "labelExpr":"datum.label=='A'?'CRMB (CB) (Fresh)':datum.label=='B'?'CRMB A-316-II (CB) (37 months)':'CRMB A-316-II (CB) (63 months)'"}}
},
"layer":[
{"transform":[{"filter":"datum.s=='A'"}],"mark":{"type":"point","filled":true,"size":60,"strokeWidth":1,"opacity":1}},
{"transform":[{"filter":"datum.s!='A'"}],"mark":{"type":"point","filled":false,"size":62,"strokeWidth":1.8,"opacity":1}}
]
}
